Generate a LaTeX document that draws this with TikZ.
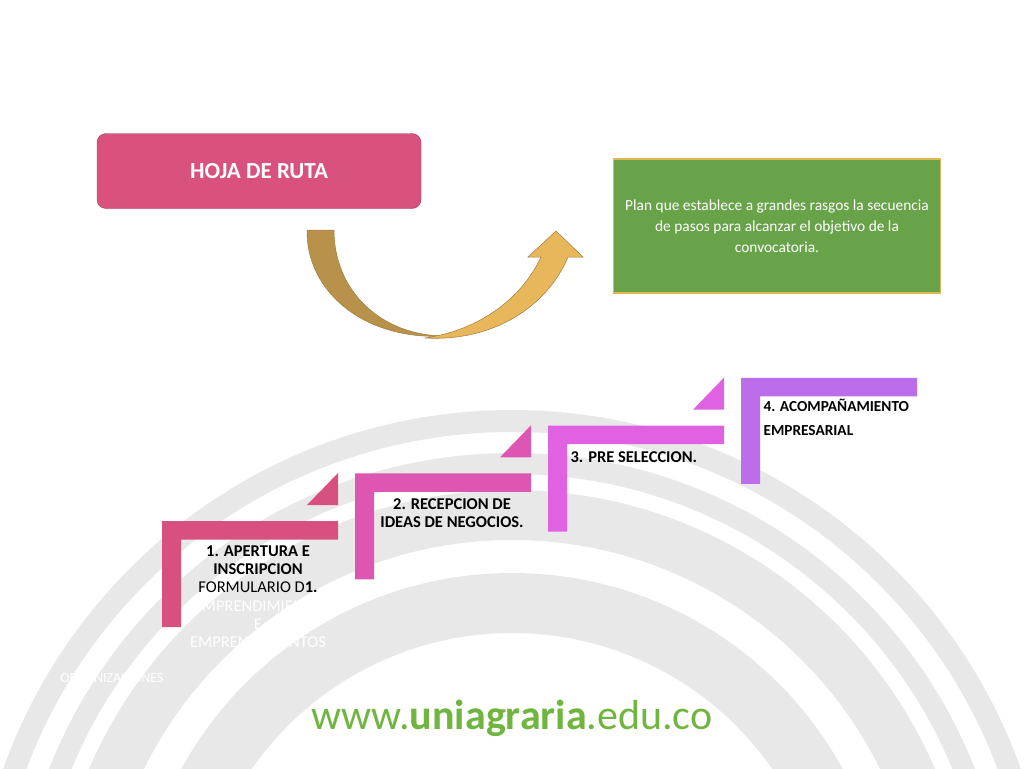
\documentclass[tikz,border=0pt]{standalone}
\usepackage{fontspec}
\setmainfont{Carlito}
\usepackage{tikz}
\definecolor{arcgrey}{HTML}{E8E8E8}
\definecolor{hojared}{HTML}{D9527D}
\definecolor{hojaline}{HTML}{A83C5E}
\definecolor{planverde}{HTML}{68A34A}
\definecolor{planline}{HTML}{E2B655}
\definecolor{arrowdark}{HTML}{B8924B}
\definecolor{arrowlight}{HTML}{E8B75B}
\definecolor{arrowline}{HTML}{9E7C3A}
\definecolor{urlverde}{HTML}{6FB540}
\definecolor{stepa}{HTML}{D7507F}
\definecolor{stepb}{HTML}{DC56B2}
\definecolor{stepc}{HTML}{E062E3}
\definecolor{stepd}{HTML}{BC6DEA}

\begin{document}
\begin{tikzpicture}[x=1pt,y=-1pt,
	box/.style={minimum width=324pt,minimum height=75pt,align=center},
	steptext/.style={font=\fontsize{16.5}{18.3}\selectfont\bfseries,align=center}]
\useasboundingbox (0,0) rectangle (1024,768);
% background rings
\begin{scope}
\clip (0,0) rectangle (1024,768);
\foreach \ro/\ri in {540/518,497/476,460/410,377/317}
  \fill[arcgrey,even odd rule] (512,950) circle (\ro pt) (512,950) circle (\ri pt);
\end{scope}
% title and definition
\node[box,fill=hojared,draw=hojaline,rounded corners=9pt,text=white,
	font=\fontsize{23}{26}\selectfont\bfseries] (hoja) at (259,171) {HOJA DE RUTA};
\node[box,minimum width=327pt,minimum height=134pt,fill=planverde,draw=planline,line width=1.5pt,
	text=white,font=\fontsize{15.4}{21}\selectfont] (plan) at (777,226)
	{Plan que establece a grandes rasgos la secuencia\\ de pasos para alcanzar el objetivo de la\\ convocatoria.};
% curved arrow
\filldraw[arrowdark,draw=arrowline,line width=0.5pt] (307,230) -- (334,230)
	.. controls (334,290) and (380,336) .. (446,336)
	.. controls (365,341) and (306,292) .. (307,230) -- cycle;
\filldraw[arrowlight,draw=arrowline,line width=0.5pt] (425,338)
	.. controls (495,342) and (548,305) .. (568,257) -- (583,257) -- (556,231) -- (528,257) -- (541,257)
	.. controls (522,298) and (480,330) .. (425,338) -- cycle;
% steps
\foreach \k/\c in {0/stepa,1/stepb,2/stepc,3/stepd}{
  \pgfmathsetmacro\xo{162+193*\k}
  \pgfmathsetmacro\yo{521-47.7*\k}
  \fill[\c] (\xo,\yo+106) -- (\xo,\yo) -- (\xo+176,\yo) -- (\xo+176,\yo+18.5)
	-- (\xo+19,\yo+18.5) -- (\xo+19,\yo+106) -- cycle;
  \ifnum\k<3
  \fill[\c] (\xo+145,\yo-16) -- (\xo+176,\yo-16) -- (\xo+176,\yo-48) -- cycle;
  \fi
}
\node[steptext,anchor=north] (step1) at (258,542) {1. APERTURA E\\ INSCRIPCION\\
	\mdseries FORMULARIO D\textbf{1.}\\ \mdseries\color{white}EMPRENDIMIENTO\\
	\mdseries\color{white}E\\ \mdseries\color{white}EMPRENDIMIENTOS};
\node[font=\fontsize{14}{17}\selectfont,text=white,anchor=east] (orga) at (167,678) {ORGANIZACIONES};
\node[steptext,anchor=north] (step2) at (452,495) {2. RECEPCION DE\\ IDEAS DE NEGOCIOS.};
\node[steptext,anchor=west] (step3) at (567,457) {3. PRE SELECCION.};
\node[font=\fontsize{15.3}{24}\selectfont\bfseries,align=left,anchor=north west] (step4) at (760,396)
	{4. ACOMPAÑAMIENTO\\ EMPRESARIAL};
% web address
\node[text=urlverde,font=\fontsize{42}{48}\selectfont] (url) at (512,718)
	{www.\textbf{uniagraria}.edu.co};
\end{tikzpicture}
\end{document}
